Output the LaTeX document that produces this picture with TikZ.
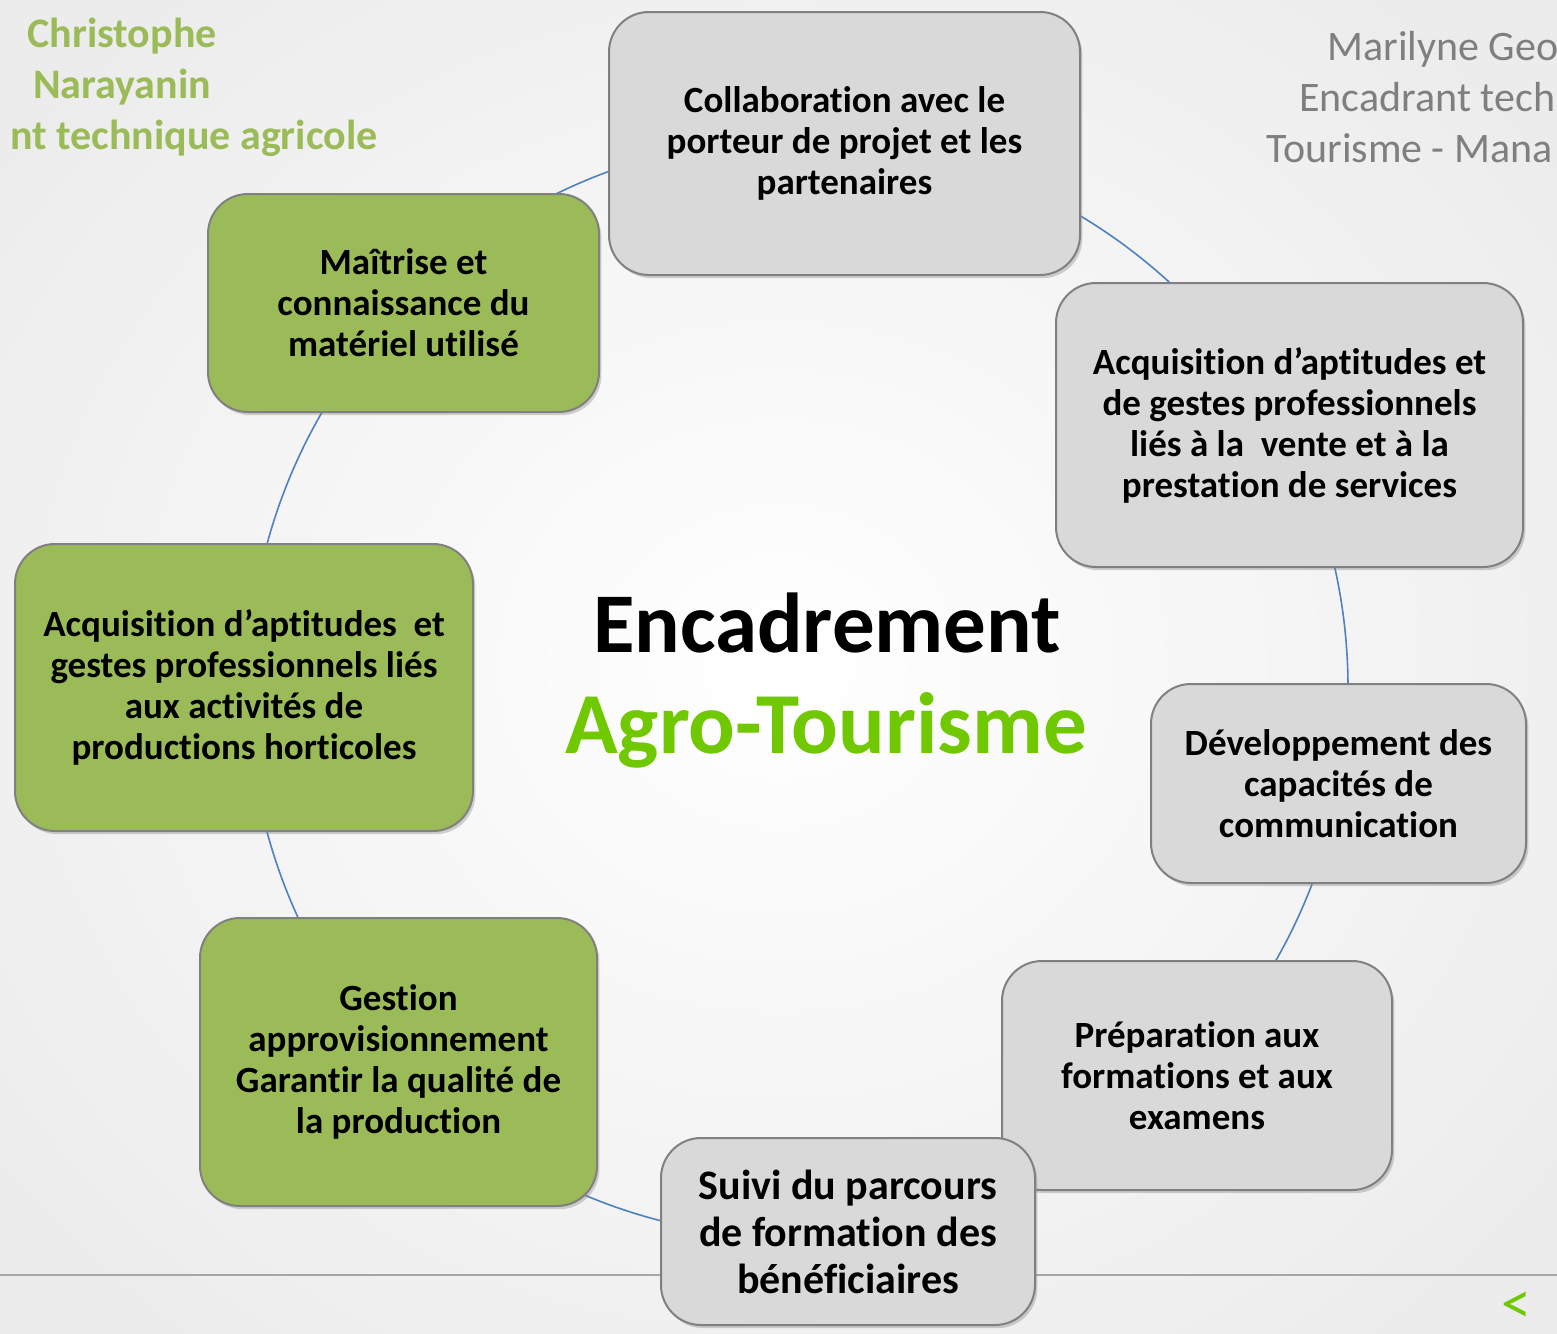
\documentclass[tikz,border=0pt]{standalone}
\usepackage{fontspec}
\setmainfont{Carlito}[Ligatures=CommonOff]
\usetikzlibrary{shadows}
\definecolor{bggray}{RGB}{236,236,236}
\definecolor{boxgray}{RGB}{217,217,217}
\definecolor{boxgreen}{RGB}{155,187,89}
\definecolor{edgegray}{RGB}{128,128,128}
\definecolor{ringblue}{RGB}{79,129,189}
\definecolor{titlegreen}{RGB}{112,200,0}
\definecolor{namegreen}{RGB}{155,187,89}
\definecolor{namegray}{RGB}{127,127,127}
\tikzset{
  card/.style={draw=edgegray, line width=1pt, rounded corners=20pt, align=center,
    font=\bfseries\fontsize{18.5}{20.5}\selectfont,
    drop shadow={shadow xshift=1.2pt, shadow yshift=-1.6pt, opacity=0.35}},
  gcard/.style={card, fill=boxgreen},
  pcard/.style={card, fill=boxgray},
  ring/.style={draw=ringblue, line width=0.8pt},
}
\begin{document}
\begin{tikzpicture}[x=0.5pt,y=-0.5pt]
\useasboundingbox (0,0) rectangle (1557,1333);
\clip (0,0) rectangle (1557,1333);
\shade[inner color=white, outer color=bggray] (-200,-200) rectangle (1757,1533);
\node[anchor=base, text=namegreen, font=\bfseries\fontsize{21}{25.5}\selectfont] (nom1) at (122,47) {Christophe};
\node[anchor=base, text=namegreen, font=\bfseries\fontsize{21}{25.5}\selectfont] (nom2) at (122,98) {Narayanin};
\node[anchor=base east, inner sep=0pt, text=namegreen, font=\bfseries\fontsize{21}{25.5}\selectfont] (nom3) at (378,149) {nt technique agricole};
\node[anchor=base west, inner sep=0pt, text=namegray, font=\fontsize{21}{25.5}\selectfont] (mar1) at (1327,60) {Marilyne Geo};
\node[anchor=base west, inner sep=0pt, text=namegray, font=\fontsize{21}{25.5}\selectfont] (mar2) at (1299,111) {Encadrant tech};
\node[anchor=base west, inner sep=0pt, text=namegray, font=\fontsize{21}{25.5}\selectfont] (mar3) at (1266,162) {Tourisme - Mana};
\coordinate (ctr) at (798,688);
\draw[ring] (ctr) circle[radius=275pt];
\draw[draw=black!35, line width=1pt] (0,1275) -- (1557,1275);
\node[anchor=base, font=\bfseries\fontsize{42.5}{50}\selectfont] (titre) at (827,652) {Encadrement};
\node[anchor=base, text=titlegreen, font=\bfseries\fontsize{43.5}{50}\selectfont] (soustitre) at (826,753) {Agro-Tourisme};
\node[pcard, minimum width=235.5pt, minimum height=131.5pt] (collab) at (844.5,143.5) {Collaboration avec le\\porteur de projet et les\\partenaires};
\node[gcard, minimum width=195.5pt, minimum height=109pt] (maitrise) at (403.5,303) {Maîtrise et\\connaissance du\\matériel utilisé};
\node[pcard, minimum width=233.5pt, minimum height=142pt] (vente) at (1289.5,425) {Acquisition d’aptitudes et\\de gestes professionnels\\liés à la\ \ vente et à la\\prestation de services};
\node[gcard, minimum width=229pt, minimum height=143.5pt] (horti) at (244,687.5) {Acquisition d’aptitudes\ \ et\\gestes professionnels liés\\aux activités de\\productions horticoles};
\node[pcard, minimum width=187.5pt, minimum height=99.5pt] (commu) at (1338.5,783.5) {Développement des\\capacités de\\communication};
\node[gcard, minimum width=198.5pt, minimum height=144pt] (gestion) at (398.5,1062) {Gestion\\approvisionnement\\Garantir la qualité de\\la production};
\node[pcard, minimum width=195pt, minimum height=114.5pt] (prepa) at (1197,1075.5) {Préparation aux\\formations et aux\\examens};
\node[pcard, minimum width=187pt, minimum height=93.5pt, font=\bfseries\fontsize{21}{23.5}\selectfont] (suivi) at (848,1231.5) {Suivi du parcours\\de formation des\\bénéficiaires};
\node[text=titlegreen, inner sep=0pt, font=\fontsize{30}{32}\selectfont] (retour) at (1516,1308) {<};
\end{tikzpicture}
\end{document}
